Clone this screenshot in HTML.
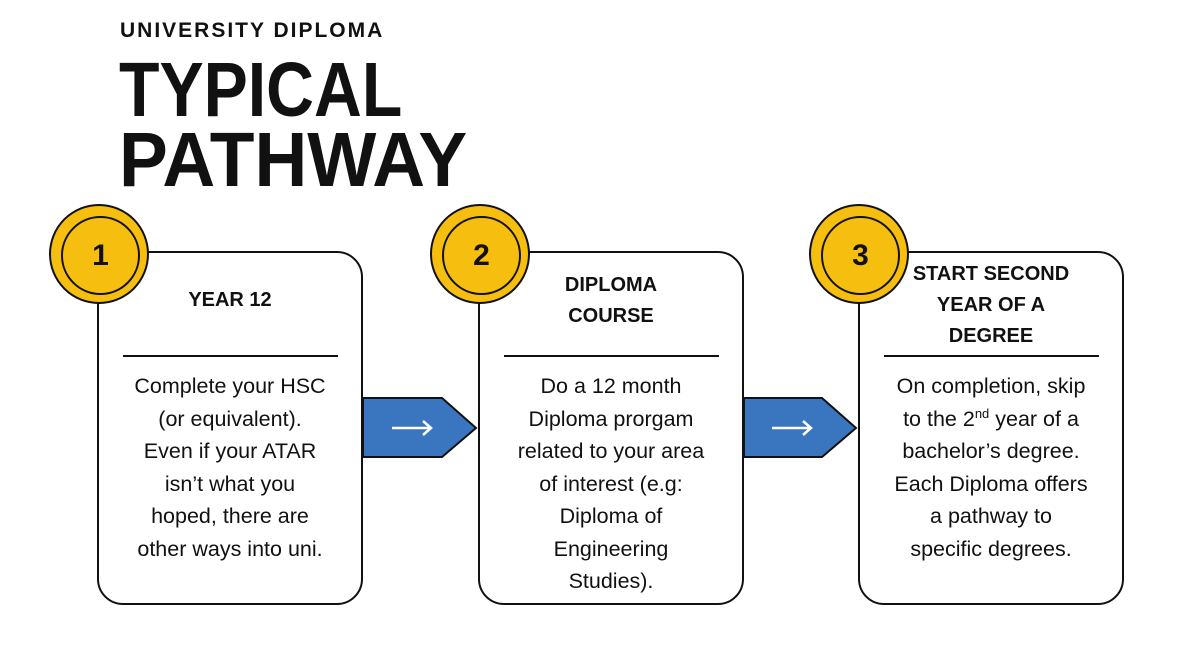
<!DOCTYPE html>
<html><head><style>
body{margin:0;width:1200px;height:655px;background:#fff;font-family:"Liberation Sans",sans-serif;position:relative;overflow:hidden;color:#111}
.a{position:absolute}
.card{position:absolute;top:251px;width:262px;height:350px;border:2.5px solid #111;border-radius:26px;background:#fff}
.circ{position:absolute;width:100px;height:100px;border-radius:50%;background:#f6be0f;border:2.5px solid #111;box-sizing:border-box}
.circ div{position:absolute;left:10px;top:10px;width:75px;height:75px;border:2.5px solid #111;border-radius:50%;text-align:center;line-height:75px;font-weight:bold;font-size:30px}
.h{position:absolute;left:0;width:100%;text-align:center;font-weight:bold;font-size:20px;line-height:31px}
.hr{position:absolute;left:24px;width:215px;top:102px;border-top:2px solid #111}
.t{position:absolute;left:0;width:100%;text-align:center;font-size:21.5px;line-height:32.5px;top:117px}
.big{position:absolute;left:119px;font-weight:bold;font-size:77px;line-height:71px;transform-origin:0 0;white-space:nowrap}
</style></head><body>
<div class="a" style="left:120px;top:19px;font-weight:bold;font-size:21px;letter-spacing:2px">UNIVERSITY DIPLOMA</div>
<div class="big" style="top:55px;transform:scaleX(0.86)">TYPICAL</div>
<div class="big" style="top:125px;transform:scaleX(0.95)">PATHWAY</div>

<svg class="a" style="left:0;top:0" width="1200" height="655">
<polygon points="363,398 442,398 476,428 442,457 363,457" fill="#3a76c0" stroke="#111" stroke-width="2"/>
<polygon points="744,398 822,398 856,428 822,457 744,457" fill="#3a76c0" stroke="#111" stroke-width="2"/>
<g stroke="#fff" stroke-width="2.5" fill="none"><path d="M392 428H431M423 421L431 428L423 435"/><path d="M772 428H811M803 421L811 428L803 435"/></g>
</svg>

<div class="card" style="left:97px">
<div class="h" style="top:32px">YEAR 12</div><div class="hr"></div>
<div class="t">Complete your HSC<br>(or equivalent).<br>Even if your ATAR<br>isn’t what you<br>hoped, there are<br>other ways into uni.</div></div>
<div class="card" style="left:478px">
<div class="h" style="top:17px">DIPLOMA<br>COURSE</div><div class="hr"></div>
<div class="t">Do a 12 month<br>Diploma prorgam<br>related to your area<br>of interest (e.g:<br>Diploma of<br>Engineering<br>Studies).</div></div>
<div class="card" style="left:858px">
<div class="h" style="top:6px">START SECOND<br>YEAR OF A<br>DEGREE</div><div class="hr"></div>
<div class="t">On completion, skip<br>to the 2<sup style="font-size:13px;line-height:0">nd</sup> year of a<br>bachelor’s degree.<br>Each Diploma offers<br>a pathway to<br>specific degrees.</div></div>

<div class="circ" style="left:49px;top:204px"><div>1</div></div>
<div class="circ" style="left:430px;top:204px"><div>2</div></div>
<div class="circ" style="left:809px;top:204px"><div>3</div></div>
</body></html>
